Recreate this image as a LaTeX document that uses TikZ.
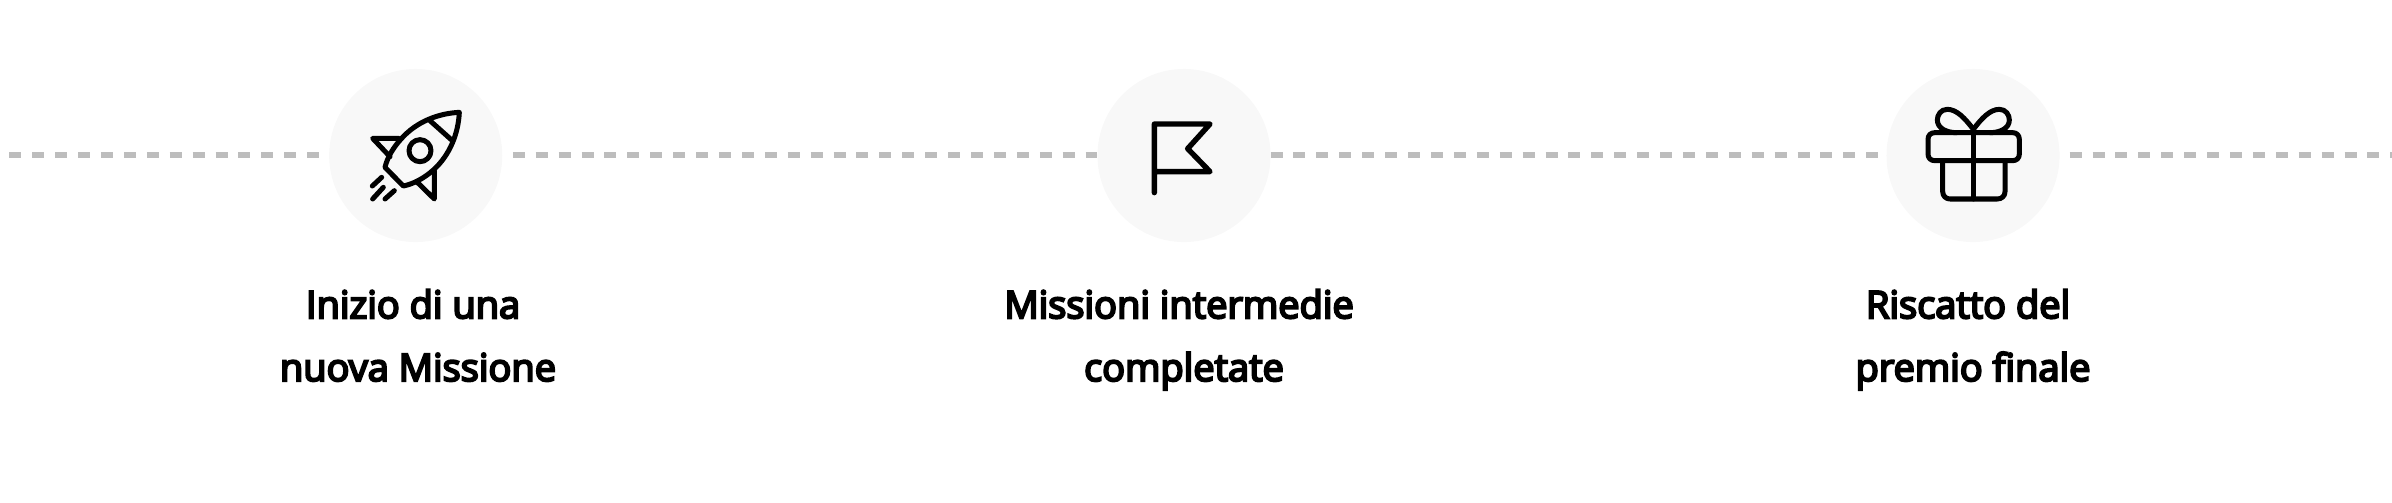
\documentclass[tikz,border=0pt]{standalone}
\usepackage{fontspec}
\setmainfont{Open Sans}[BoldFont={Open Sans},BoldFeatures={FakeBold=5.5}]
\definecolor{discgray}{HTML}{F8F8F8}
\definecolor{dashgray}{HTML}{BDBDBD}
\newcommand{\trailsp}{\hbox{~}}
\tikzset{
	disc/.style={circle,fill=discgray,inner sep=0pt,outer sep=0pt,minimum size=1.73cm},
	dashline/.style={dashgray,line width=0.06cm,dash pattern=on 0.12cm off 0.109cm},
	icon/.style={black,line width=0.05cm,line cap=round,line join=round},
	caption/.style={inner sep=0pt,align=center,anchor=base,font=\bfseries\fontsize{10.8}{17.86}\selectfont}
}
\begin{document}
\begin{tikzpicture}[x=0.01cm,y=0.01cm]
	\useasboundingbox (0,0) rectangle (2392,-502);
	\node [disc] (rocket) at (415.7,-155.5) {};
	\node [disc] (flag) at (1184,-155.5) {};
	\node [disc] (gift) at (1973,-155.5) {};
	\coordinate (linestart) at (9.3,-154.5);
	\coordinate (lineend) at (2392,-154.5);
	\draw [dashline,shorten >=0.1cm] (linestart) -- (rocket.west |- linestart);
	\draw [dashline,shorten <=0.105cm] (rocket.east |- linestart) -- (flag.west |- linestart);
	\draw [dashline] (flag.east |- linestart) -- (gift.west |- linestart);
	\draw [dashline,shorten <=0.1cm] (gift.east |- linestart) -- (lineend);
	% rocket
	\begin{scope}[shift={(300,-50)},scale=0.3333]
		\draw [icon] (478,-187) .. controls (415,-190) and (350,-215) .. (305,-265) .. controls (280,-292) and (262,-322) .. (255,-352) -- (310,-408) .. controls (340,-402) and (372,-385) .. (400,-360) .. controls (450,-315) and (475,-250) .. (478,-187) -- cycle;
		\draw [icon] (390,-212) -- (455,-270);
		\draw [icon] (360,-302) circle (33);
		\draw [icon] (296,-265) -- (218,-265) -- (270,-320);
		\draw [icon] (403,-362) -- (403,-447) -- (350,-395);
		\draw [icon] (245,-382) -- (217,-408);
		\draw [icon] (250,-412) -- (218,-447);
		\draw [icon] (283,-422) -- (255,-447);
	\end{scope}
	% flag
	\begin{scope}[shift={(1070,-50)},scale=0.3333]
		\draw [icon,line width=0.054cm] (253,-428) -- (253,-222) -- (420,-222) -- (353,-296) -- (420,-365) -- (253,-365);
	\end{scope}
	% gift
	\begin{scope}[shift={(1860,-50)},scale=0.3333]
		\draw [icon] (204,-268) .. controls (204,-256) and (212,-248) .. (224,-248) -- (458,-248) .. controls (470,-248) and (478,-256) .. (478,-268) -- (478,-312) .. controls (478,-324) and (470,-332) .. (458,-332) -- (224,-332) .. controls (212,-332) and (204,-324) .. (204,-312) -- cycle;
		\draw [icon] (248,-332) -- (248,-425) .. controls (248,-438) and (258,-447) .. (270,-447) -- (412,-447) .. controls (425,-447) and (435,-438) .. (435,-425) -- (435,-332);
		\draw [icon] (340,-238) -- (340,-447);
		\draw [icon] (340,-238) .. controls (315,-205) and (290,-178) .. (262,-178) .. controls (242,-178) and (232,-195) .. (232,-210) .. controls (232,-235) and (260,-248) .. (290,-248);
		\draw [icon] (340,-238) .. controls (365,-205) and (390,-178) .. (418,-178) .. controls (438,-178) and (448,-195) .. (448,-210) .. controls (448,-235) and (420,-248) .. (390,-248);
	\end{scope}
	\node [caption] (rocketlabel) at (418,-381) {Inizio di una\trailsp\\nuova Missione};
	\node [caption] (flaglabel) at (1184,-381) {Missioni intermedie\trailsp\\completate};
	\node [caption] (giftlabel) at (1973,-381) {Riscatto del\trailsp\\premio finale};
\end{tikzpicture}
\end{document}
